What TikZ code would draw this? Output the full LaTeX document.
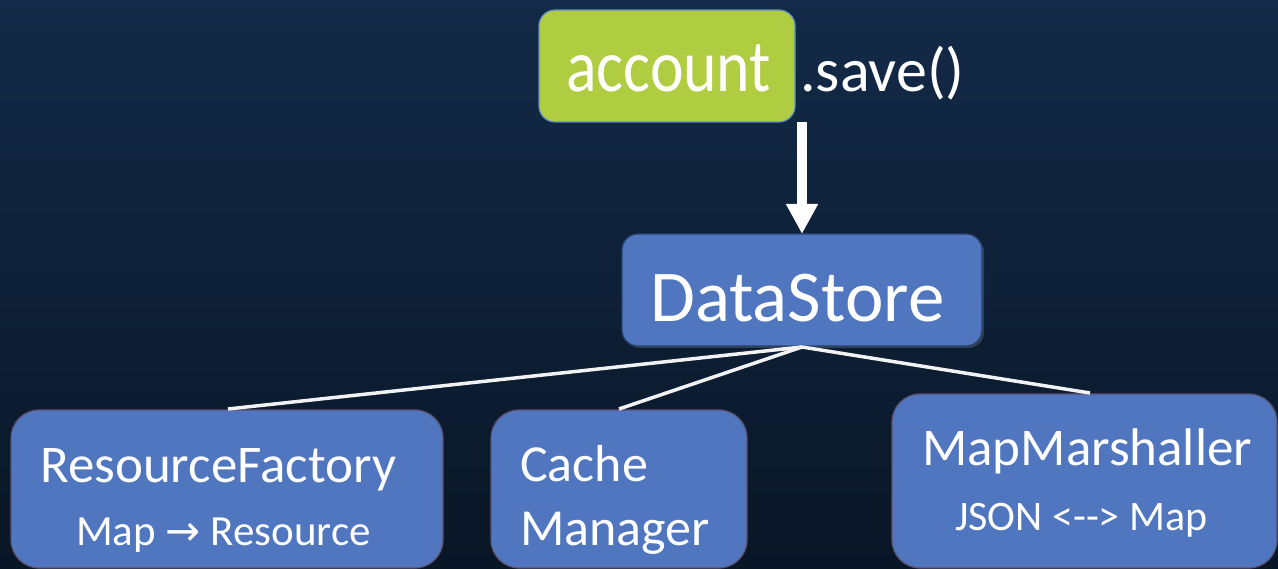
\documentclass[tikz,border=0pt]{standalone}
\usepackage{fontspec}
\setmainfont{Carlito}
\newfontfamily\arrowfont{DejaVu Sans}
\usetikzlibrary{arrows.meta,shadows}
\definecolor{bgtop}{RGB}{19,42,72}
\definecolor{bgbot}{RGB}{9,22,38}
\definecolor{boxblue}{RGB}{79,118,190}
\definecolor{boxedge}{RGB}{40,66,110}
\definecolor{lowedge}{RGB}{92,80,112}
\definecolor{acctgreen}{RGB}{176,205,66}
\definecolor{acctedge}{RGB}{96,140,200}
\tikzset{
  txt/.style={text=white, inner sep=0pt, anchor=base west},
  lowbox/.style={draw=lowedge, line width=1.2pt, fill=boxblue, rounded corners=28pt},
  link/.style={draw=white!90!gray, line width=3.5pt},
}
\begin{document}
\begin{tikzpicture}[x=1pt,y=-1pt]
\shade[top color=bgtop, bottom color=bgbot] (0,0) rectangle (1278,569);
\useasboundingbox (0,0) rectangle (1278,569);

% account box
\draw[acctedge, line width=1.2pt, fill=acctgreen, rounded corners=16pt] (539,10) rectangle (795,122);
\node[txt, font=\fontsize{74}{74}\selectfont] (acct) at (566,92) {\scalebox{0.86}[1]{account}};
\node[txt, font=\fontsize{62}{62}\selectfont] (save) at (800,92) {.save()};

% DataStore
\draw[boxedge, line width=1.2pt, fill=boxblue, rounded corners=16pt, drop shadow={shadow xshift=2pt, shadow yshift=-2pt, opacity=0.35}] (622,234) rectangle (982,346);
\node[txt, font=\fontsize{73}{73}\selectfont] (ds) at (650,322) {DataStore};
\coordinate (dsbot) at (802,347);
\coordinate (arrtop) at (802,122);
\coordinate (arrbot) at (802,234);
\draw[white, line width=10pt, -{Triangle[width=30pt,length=30pt]}] (arrtop) -- (arrbot);

% lower boxes
\draw[lowbox] (11,410) rectangle (443,568);
\draw[lowbox] (491,410) rectangle (747,568);
\draw[lowbox] (892,394) rectangle (1277,568);
\coordinate (rfTop) at (228,409);
\coordinate (cmTop) at (619,409);
\coordinate (mmTop) at (1090,393);
\draw[link] (dsbot) -- (rfTop);
\draw[link] (dsbot) -- (cmTop);
\draw[link] (dsbot) -- (mmTop);

\node[txt, font=\fontsize{53}{53}\selectfont] (rf) at (40,482) {ResourceFactory};
\node[txt, font=\fontsize{43}{43}\selectfont] (rfs) at (76,545) {Map {\arrowfont\fontsize{42}{42}\selectfont →} Resource};
\node[txt, font=\fontsize{52}{52}\selectfont] (cm1) at (520,481) {Cache};
\node[txt, font=\fontsize{52}{52}\selectfont] (cm2) at (520,545) {Manager};
\node[txt, font=\fontsize{53}{53}\selectfont] (mm) at (922,465) {MapMarshaller};
\node[txt, font=\fontsize{42}{42}\selectfont] (mms) at (955,530) {JSON <-{}-> Map};
\end{tikzpicture}
\end{document}
